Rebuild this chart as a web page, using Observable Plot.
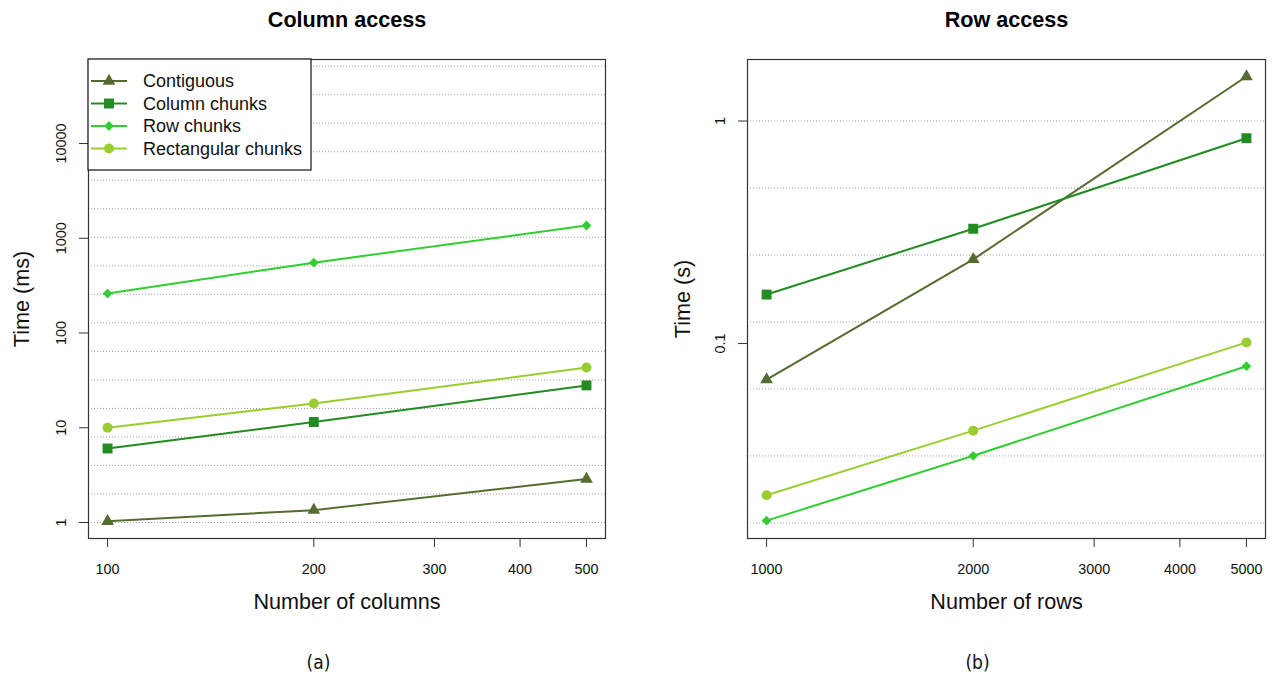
<!DOCTYPE html>
<html><head><meta charset="utf-8">
<script src="https://cdn.jsdelivr.net/npm/d3@7"></script>
<script src="https://cdn.jsdelivr.net/npm/@observablehq/plot@0.6"></script>
<style>
body{margin:0;background:#fff;}
#wrap{display:flex;width:1274px;height:676px;}
#wrap svg{font-family:"Liberation Sans", Arial, Helvetica, sans-serif;display:block;}
</style></head><body><div id="wrap"></div>
<script>
// ---- data ----
const series = ["Contiguous", "Column chunks", "Row chunks", "Rectangular chunks"];
const colors = ["#556B2F", "#228B22", "#32CD32", "#9ACD32"];
const symbols = ["triangle", "square", "diamond2", "circle"];
const markerR = [4.7, 5.6, 4.4, 5.0];

const colCounts = [100, 200, 500];
const colContiguous = [1.03, 1.35, 2.87];
const colColumnChunks = [6.04, 11.5, 28.0];
const colRowChunks = [261, 553, 1364];
const colRectChunks = [10.0, 18.0, 43.2];

const rowCounts = [1000, 2000, 5000];
const rowContiguous = [0.0689, 0.239, 1.585];
const rowColumnChunks = [0.166, 0.328, 0.837];
const rowRowChunks = [0.0160, 0.0313, 0.0791];
const rowRectChunks = [0.0208, 0.0406, 0.1012];

const colXTicks = [100, 200, 300, 400, 500];
const colYTicks = [1, 10, 100, 1000, 10000];
const rowXTicks = [1000, 2000, 3000, 4000, 5000];
const rowYTicks = [0.1, 1];
const colGrid = d3.range(0, 17).map(k => 2 ** k);
const rowGrid = d3.range(-6, 1).map(k => 2 ** k);

function panel(o) {
  const data = [];
  o.vals.forEach((arr, i) => arr.forEach((v, j) => data.push({s: series[i], x: o.xs[j], y: v})));
  const dots = series.map((s, i) => Plot.dot(data.filter(d => d.s === s), {
    x: "x", y: "y", symbol: () => symbols[i], fill: colors[i], stroke: "none", r: markerR[i]
  }));
  return Plot.plot({
    width: 637, height: 676,
    marginLeft: o.marginLeft, marginRight: o.marginRight, marginTop: 59, marginBottom: 138,
    style: {background: "white", overflow: "visible", fontFamily: '"Liberation Sans", Arial, sans-serif'},
    x: {type: "log", domain: o.xDomain, axis: null},
    y: {type: "log", domain: o.yDomain, axis: null},
    symbol: {type: "identity"},
    marks: [
      Plot.ruleY(o.grid, {y: d => d, stroke: "#a0a0a0", strokeDasharray: "1 2", strokeWidth: 1}),
      Plot.line(data, {x: "x", y: "y", z: "s", stroke: d => colors[series.indexOf(d.s)], strokeWidth: 2}),
      ...dots,
      Plot.frame({stroke: "#333", strokeWidth: 1.2}),
      Plot.axisX({ticks: o.xTicks, tickSize: 9, tickPadding: 16, fontSize: 14.4, tickFormat: d => String(d), label: null, stroke: "#333", color: "#111"}),
      Plot.axisY({ticks: o.yTicks, tickSize: 9, tickFormat: () => "", label: null, stroke: "#333"}),
      Plot.text(o.yTicks, {y: d => d, text: d => String(d), frameAnchor: "left", dx: -27, rotate: -90, fontSize: 14.4, textAnchor: "middle", lineAnchor: "middle", fill: "#111"}),
      Plot.text([o.title], {text: d => d, frameAnchor: "top", dy: -39, fontSize: 21.6, fontWeight: "bold", lineAnchor: "middle", fill: "#000"}),
      Plot.text([o.xLabel], {text: d => d, frameAnchor: "bottom", dy: 64, fontSize: 21.6, lineAnchor: "middle", fill: "#111"}),
      Plot.text([o.yLabel], {text: d => d, frameAnchor: "left", dx: o.yLabelDx, rotate: -90, fontSize: 21.6, textAnchor: "middle", lineAnchor: "middle", fill: "#111"}),
      Plot.text([o.caption], {text: d => d, frameAnchor: "bottom-left", dx: 230, dy: 124, fontSize: 19, textAnchor: "middle", lineAnchor: "middle", fontFamily: '"DejaVu Sans Condensed", "DejaVu Sans", sans-serif', fill: "#111"})
    ]
  });
}

const left = panel({
  xs: colCounts, vals: [colContiguous, colColumnChunks, colRowChunks, colRectChunks],
  xTicks: colXTicks, yTicks: colYTicks, grid: colGrid,
  xDomain: [93.8, 533], yDomain: [Math.pow(10, -0.169), Math.pow(10, 4.887)],
  marginLeft: 88, marginRight: 32,
  title: "Column access", xLabel: "Number of columns", yLabel: "Time (ms)", yLabelDx: -66, caption: "(a)"
});
const right = panel({
  xs: rowCounts, vals: [rowContiguous, rowColumnChunks, rowRowChunks, rowRectChunks],
  xTicks: rowXTicks, yTicks: rowYTicks, grid: rowGrid,
  xDomain: [938, 5330], yDomain: [0.0133, 1.89],
  marginLeft: 110, marginRight: 9,
  title: "Row access", xLabel: "Number of rows", yLabel: "Time (s)", yLabelDx: -64, caption: "(b)"
});

// legend drawn into the left panel
const svg = d3.select(left.tagName === "svg" ? left : left.querySelector("svg"));
const lg = svg.append("g").attr("transform", "translate(88,59)").attr("text-anchor", "start");
lg.append("rect").attr("x", 0).attr("y", 0).attr("width", 223).attr("height", 111)
  .attr("fill", "white").attr("stroke", "#111").attr("stroke-width", 1.2);
series.forEach((s, i) => {
  const y = 22 + i * 22.5;
  const g = lg.append("g").attr("transform", `translate(0,${y})`);
  g.append("line").attr("x1", 3).attr("x2", 39).attr("y1", 0).attr("y2", 0)
    .attr("stroke", colors[i]).attr("stroke-width", 2);
  const symType = {triangle: d3.symbolTriangle, square: d3.symbolSquare, diamond2: d3.symbolDiamond2, circle: d3.symbolCircle}[symbols[i]];
  g.append("path").attr("transform", "translate(21,0)")
    .attr("d", d3.symbol(symType, markerR[i] * markerR[i] * Math.PI)()).attr("fill", colors[i]);
  g.append("text").attr("x", 55).attr("y", 0).attr("dy", "0.35em").attr("text-anchor", "start")
    .attr("font-size", 18).attr("fill", "#111").text(s);
});

document.getElementById("wrap").append(left, right);
</script></body></html>
